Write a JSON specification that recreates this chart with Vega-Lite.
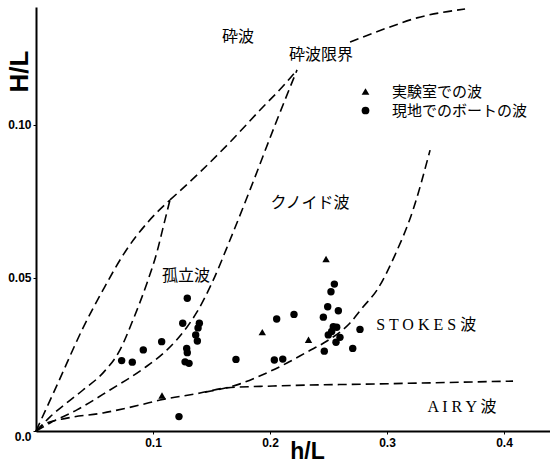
{
  "$schema": "https://vega.github.io/schema/vega-lite/v6.json",
  "width": 514,
  "height": 424,
  "padding": {"left": 36, "top": 7, "right": 0, "bottom": 33},
  "autosize": {"type": "none"},
  "background": "white",
  "config": {
    "view": {"stroke": null},
    "axis": {"grid": false, "domainColor": "black", "domainWidth": 2, "tickColor": "black", "labelColor": "black", "titleColor": "black", "labelFont": "Liberation Sans", "labelFontSize": 12, "labelFontWeight": "bold", "titleFont": "Liberation Sans", "titleFontWeight": "bold"}
  },
  "datasets": {
    "curves": [
      {"c": "a", "i": 0, "x": 0, "y": 0},
      {"c": "a", "i": 1, "x": 0.0188, "y": 0.0157},
      {"c": "a", "i": 2, "x": 0.0402, "y": 0.0337},
      {"c": "a", "i": 3, "x": 0.0573, "y": 0.0461},
      {"c": "a", "i": 4, "x": 0.0761, "y": 0.0585},
      {"c": "a", "i": 5, "x": 0.0957, "y": 0.0683},
      {"c": "a", "i": 6, "x": 0.1145, "y": 0.0755},
      {"c": "b", "i": 0, "x": 0.1145, "y": 0.0755},
      {"c": "b", "i": 1, "x": 0.1402, "y": 0.0846},
      {"c": "b", "i": 2, "x": 0.1658, "y": 0.0944},
      {"c": "b", "i": 3, "x": 0.1915, "y": 0.1049},
      {"c": "b", "i": 4, "x": 0.2128, "y": 0.1134},
      {"c": "b", "i": 5, "x": 0.2231, "y": 0.1180},
      {"c": "c", "i": 0, "x": 0.2684, "y": 0.1271},
      {"c": "c", "i": 1, "x": 0.3, "y": 0.1317},
      {"c": "c", "i": 2, "x": 0.3256, "y": 0.1350},
      {"c": "c", "i": 3, "x": 0.3667, "y": 0.1379},
      {"c": "d", "i": 0, "x": 0, "y": 0},
      {"c": "d", "i": 1, "x": 0.0120, "y": 0.0046},
      {"c": "d", "i": 2, "x": 0.0402, "y": 0.0134},
      {"c": "d", "i": 3, "x": 0.0573, "y": 0.0190},
      {"c": "d", "i": 4, "x": 0.0718, "y": 0.0265},
      {"c": "d", "i": 5, "x": 0.0829, "y": 0.0363},
      {"c": "d", "i": 6, "x": 0.0949, "y": 0.0484},
      {"c": "d", "i": 7, "x": 0.1034, "y": 0.0585},
      {"c": "d", "i": 8, "x": 0.1085, "y": 0.0663},
      {"c": "d", "i": 9, "x": 0.1145, "y": 0.0755},
      {"c": "e", "i": 0, "x": 0, "y": 0},
      {"c": "e", "i": 1, "x": 0.0120, "y": 0.0026},
      {"c": "e", "i": 2, "x": 0.0350, "y": 0.0069},
      {"c": "e", "i": 3, "x": 0.0632, "y": 0.0134},
      {"c": "e", "i": 4, "x": 0.0915, "y": 0.0203},
      {"c": "e", "i": 5, "x": 0.1120, "y": 0.0265},
      {"c": "e", "i": 6, "x": 0.1291, "y": 0.0340},
      {"c": "e", "i": 7, "x": 0.1376, "y": 0.0389},
      {"c": "e", "i": 8, "x": 0.1504, "y": 0.0484},
      {"c": "e", "i": 9, "x": 0.1658, "y": 0.0624},
      {"c": "e", "i": 10, "x": 0.1829, "y": 0.0788},
      {"c": "e", "i": 11, "x": 0.2043, "y": 0.1},
      {"c": "e", "i": 12, "x": 0.2231, "y": 0.1180},
      {"c": "f", "i": 0, "x": 0, "y": 0},
      {"c": "f", "i": 1, "x": 0.0077, "y": 0.0023},
      {"c": "f", "i": 2, "x": 0.0265, "y": 0.0042},
      {"c": "f", "i": 3, "x": 0.0573, "y": 0.0059},
      {"c": "f", "i": 4, "x": 0.0889, "y": 0.0085},
      {"c": "f", "i": 5, "x": 0.1060, "y": 0.0101},
      {"c": "f", "i": 6, "x": 0.1402, "y": 0.0124},
      {"c": "f", "i": 7, "x": 0.1632, "y": 0.0141},
      {"c": "f", "i": 8, "x": 0.2026, "y": 0.0147},
      {"c": "f", "i": 9, "x": 0.2940, "y": 0.0154},
      {"c": "f", "i": 10, "x": 0.4077, "y": 0.0163},
      {"c": "g", "i": 0, "x": 0.1444, "y": 0.0127},
      {"c": "g", "i": 1, "x": 0.1744, "y": 0.0154},
      {"c": "g", "i": 2, "x": 0.1889, "y": 0.0176},
      {"c": "g", "i": 3, "x": 0.2145, "y": 0.0222},
      {"c": "g", "i": 4, "x": 0.2316, "y": 0.0258},
      {"c": "g", "i": 5, "x": 0.2487, "y": 0.0294},
      {"c": "g", "i": 6, "x": 0.2684, "y": 0.0353},
      {"c": "g", "i": 7, "x": 0.2795, "y": 0.0405},
      {"c": "g", "i": 8, "x": 0.2915, "y": 0.0461},
      {"c": "g", "i": 9, "x": 0.3068, "y": 0.0575},
      {"c": "g", "i": 10, "x": 0.3222, "y": 0.0722},
      {"c": "g", "i": 11, "x": 0.3368, "y": 0.0918}
    ],
    "obs": [
      {"t": "実験室での波", "x": 0.1077, "y": 0.0116},
      {"t": "実験室での波", "x": 0.1934, "y": 0.0323},
      {"t": "実験室での波", "x": 0.2329, "y": 0.0298},
      {"t": "実験室での波", "x": 0.2479, "y": 0.0562},
      {"t": "現地でのボートの波", "x": 0.0732, "y": 0.0230},
      {"t": "現地でのボートの波", "x": 0.0823, "y": 0.0225},
      {"t": "現地でのボートの波", "x": 0.0917, "y": 0.0265},
      {"t": "現地でのボートの波", "x": 0.1074, "y": 0.0292},
      {"t": "現地でのボートの波", "x": 0.1254, "y": 0.0352},
      {"t": "現地でのボートの波", "x": 0.1293, "y": 0.0434},
      {"t": "現地でのボートの波", "x": 0.1396, "y": 0.0352},
      {"t": "現地でのボートの波", "x": 0.1385, "y": 0.0337},
      {"t": "現地でのボートの波", "x": 0.1365, "y": 0.0314},
      {"t": "現地でのボートの波", "x": 0.1379, "y": 0.0294},
      {"t": "現地でのボートの波", "x": 0.1288, "y": 0.0270},
      {"t": "現地でのボートの波", "x": 0.1293, "y": 0.0256},
      {"t": "現地でのボートの波", "x": 0.1274, "y": 0.0226},
      {"t": "現地でのボートの波", "x": 0.1308, "y": 0.0221},
      {"t": "現地でのボートの波", "x": 0.1222, "y": 0.0047},
      {"t": "現地でのボートの波", "x": 0.1709, "y": 0.0234},
      {"t": "現地でのボートの波", "x": 0.2057, "y": 0.0366},
      {"t": "現地でのボートの波", "x": 0.2205, "y": 0.0381},
      {"t": "現地でのボートの波", "x": 0.2037, "y": 0.0232},
      {"t": "現地でのボートの波", "x": 0.2109, "y": 0.0235},
      {"t": "現地でのボートの波", "x": 0.2550, "y": 0.0480},
      {"t": "現地でのボートの波", "x": 0.2521, "y": 0.0455},
      {"t": "現地でのボートの波", "x": 0.2493, "y": 0.0406},
      {"t": "現地でのボートの波", "x": 0.2456, "y": 0.0372},
      {"t": "現地でのボートの波", "x": 0.2584, "y": 0.0393},
      {"t": "現地でのボートの波", "x": 0.2541, "y": 0.0341},
      {"t": "現地でのボートの波", "x": 0.2570, "y": 0.0339},
      {"t": "現地でのボートの波", "x": 0.2527, "y": 0.0325},
      {"t": "現地でのボートの波", "x": 0.2498, "y": 0.0314},
      {"t": "現地でのボートの波", "x": 0.2598, "y": 0.0306},
      {"t": "現地でのボートの波", "x": 0.2564, "y": 0.0290},
      {"t": "現地でのボートの波", "x": 0.2464, "y": 0.0261},
      {"t": "現地でのボートの波", "x": 0.2707, "y": 0.0270},
      {"t": "現地でのボートの波", "x": 0.2769, "y": 0.0332}
    ],
    "labels": [
      {"s": "砕波", "x": 0.1726, "y": 0.1288},
      {"s": "砕波限界", "x": 0.2436, "y": 0.1229},
      {"s": "孤立波", "x": 0.1282, "y": 0.0507},
      {"s": "クノイド波", "x": 0.2342, "y": 0.0745},
      {"s": "S T O K E S 波", "x": 0.3335, "y": 0.0346},
      {"s": "A I R Y 波", "x": 0.3641, "y": 0.0078}
    ]
  },
  "layer": [
    {
      "data": {"name": "curves"},
      "mark": {"type": "line", "color": "black", "strokeWidth": 1.6, "strokeDash": [9, 5], "interpolate": "monotone"},
      "encoding": {
        "x": {"field": "x", "type": "quantitative", "scale": {"domain": [0, 0.4393], "nice": false},
          "axis": {"values": [0.1, 0.2, 0.3, 0.4], "format": ".1f", "tickSize": 3, "labelPadding": 3, "title": "h/L", "titleFontSize": 23, "titleX": 271, "titleY": 32, "titleAnchor": null, "titleAlign": "center", "titleBaseline": "bottom"}},
        "y": {"field": "y", "type": "quantitative", "scale": {"domain": [0, 0.13856], "nice": false},
          "axis": {"values": [0, 0.05, 0.1], "labelExpr": "datum.value == 0 ? '0.0' : format(datum.value, '.2f')", "tickSize": 3, "labelPadding": 2, "labelBaseline": {"condition": {"test": "datum.value == 0", "value": "top"}, "value": "middle"}, "title": "H/L", "titleFontSize": 26, "titleAngle": 270, "titleX": -17, "titleY": 64, "titleAlign": "center", "titleBaseline": "middle"}},
        "detail": {"field": "c"},
        "order": {"field": "i", "type": "quantitative"}
      }
    },
    {
      "data": {"name": "obs"},
      "mark": {"type": "point", "filled": true, "color": "black", "opacity": 1, "size": 55},
      "encoding": {
        "x": {"field": "x", "type": "quantitative"},
        "y": {"field": "y", "type": "quantitative"},
        "shape": {"field": "t", "type": "nominal",
          "scale": {"domain": ["実験室での波", "現地でのボートの波"], "range": ["triangle-up", "circle"]},
          "legend": {"title": null, "orient": "none", "legendX": 322, "legendY": 77, "padding": 0, "symbolSize": 60, "symbolFillColor": "black", "symbolStrokeColor": "black", "labelFont": "Noto Sans CJK JP", "labelFontSize": 15, "labelColor": "black", "labelOffset": 19, "rowPadding": 3}}
      }
    },
    {
      "data": {"name": "labels"},
      "mark": {"type": "text", "font": "Liberation Serif, Noto Sans CJK JP", "fontSize": 16, "color": "black", "align": "center", "baseline": "middle"},
      "encoding": {
        "x": {"field": "x", "type": "quantitative"},
        "y": {"field": "y", "type": "quantitative"},
        "text": {"field": "s"}
      }
    }
  ]
}
